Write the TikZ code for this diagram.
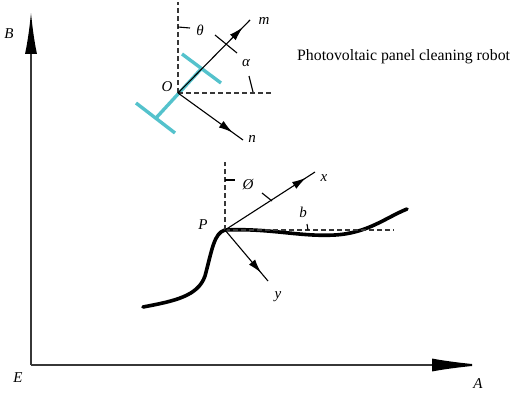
\documentclass[tikz,border=0pt]{standalone}
\usepackage{fontspec}
\setmainfont{Liberation Serif}
\usetikzlibrary{arrows.meta,decorations.markings,calc}
\definecolor{robotcyan}{RGB}{84,194,204}
\definecolor{axisgray}{RGB}{55,55,55}
\tikzset{
  axisline/.style={line width=2pt,draw=axisgray},
  dashline/.style={line width=1.8pt,draw=axisgray,dash pattern=on 5pt off 3pt},
  thinline/.style={line width=1.1pt,draw=black},
  ticksty/.style={line width=1.1pt,draw=black},
  lbl/.style={font=\fontsize{15}{15}\selectfont\itshape,inner sep=0pt},
  midarrow/.style={postaction={decorate},decoration={markings,
    mark=at position #1 with {\arrow{Latex[length=14pt,width=8pt]}}}},
  robotbar/.style={line width=3.4pt,draw=robotcyan,line cap=butt},
}
\begin{document}
\begin{tikzpicture}[x=1pt,y=-1pt]
\useasboundingbox (0,0) rectangle (511,393);
% axes
\coordinate (E) at (31,365);
\coordinate (Btip) at (31,12);
\coordinate (Atip) at (484,365);
\draw[axisline,-{Latex[length=42pt,width=12pt,color=black]}] (E) -- (Btip);
\draw[axisline,-{Latex[length=52pt,width=13pt,color=black]}] (E) -- (Atip);
\node[lbl] (Blbl) at (9,34) {B};
\node[lbl] (Elbl) at (18,378) {E};
\node[lbl] (Albl) at (478,384) {A};
% title
\node[font=\fontsize{15.8}{15.8}\selectfont,inner sep=0pt,anchor=west] (title) at (297,57) {Photovoltaic panel cleaning robot};
% robot frame
\coordinate (O) at (178,93);
\coordinate (Oup) at (178,2);
\coordinate (Oright) at (272,93);
\coordinate (mend) at (250,20);
\coordinate (nend) at (243,140);
% cyan robot
\coordinate (rtop) at (202,68);
\coordinate (rbot) at (156,118);
\coordinate (rt1) at (182,54);
\coordinate (rt2) at (221,83);
\coordinate (rb1) at (136,103);
\coordinate (rb2) at (175,133);
\draw[robotbar] (rbot) -- (rtop);
\draw[robotbar] (rt1) -- (rt2);
\draw[robotbar] (rb1) -- (rb2);
\draw[dashline] (O) -- (Oup);
\draw[dashline] (O) -- (Oright);
\draw[thinline,midarrow=0.9] (O) -- (mend);
\draw[thinline,midarrow=0.84] (O) -- (nend);
% angle ticks
\draw[ticksty] ($(O)+(0,-66)$) -- ++(12,1);
\draw[ticksty] (215,35) -- (237,53);
\draw[ticksty] (249,76) -- (253,92);
\node[lbl] (Olbl) at (167,87) {O};
\node[lbl] (theta) at (200,30) {θ};
\node[lbl] (mlbl) at (264,21) {m};
\node[lbl] (alpha) at (246,63) {α};
\node[lbl] (nlbl) at (252,139) {n};
% panel curve
\coordinate (P) at (225,230);
\coordinate (Pup) at (225,162);
\coordinate (Pright) at (394,230);
\coordinate (xend) at (315,172);
\coordinate (yend) at (268,281);
\coordinate (cstart) at (143,307);
\coordinate (cend) at (407,209);
\draw[line width=3.6pt,line cap=round,line join=round] (cstart) .. controls (175,301) and (198,296) .. (205,276)
  .. controls (212,250) and (214,233) .. (P)
  .. controls (270,228) and (300,237) .. (335,235)
  .. controls (368,233) and (385,218) .. (cend);
\draw[dashline] (P) -- (Pup);
\draw[dashline] (P) -- (Pright);
\draw[thinline,midarrow=0.9] (P) -- (xend);
\draw[thinline,midarrow=0.84] (P) -- (yend);
\draw[ticksty] (225,180) -- (235,180);
\draw[ticksty] (262,193) -- (272,201);
\draw[ticksty] (307,224) -- (308,230);
\node[lbl] (Plbl) at (203,225) {P};
\node[lbl] (philbl) at (248,185) {Ø};
\node[lbl] (xlbl) at (324,178) {x};
\node[lbl] (blbl) at (303,212) {b};
\node[lbl] (ylbl) at (278,297) {y};
\end{tikzpicture}
\end{document}
